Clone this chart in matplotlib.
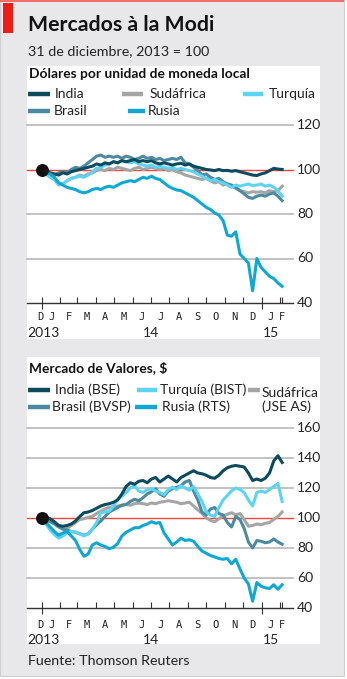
import matplotlib
matplotlib.use("Agg")
import matplotlib.pyplot as plt
import matplotlib.transforms as mtransforms
from matplotlib.patches import Rectangle
from matplotlib.lines import Line2D
import numpy as np

# ---------------- data ----------------
# days since 31 Dec 2013 (weekly samples)
days = list(range(0, 400, 7))

# Panel 1: dollars per unit of local currency (31 Dec 2013 = 100)
india_fx = [100, 99.5, 98.5, 98, 97.5, 98.5, 98, 99, 99.5, 100, 100.5, 101, 101.5, 102.5, 102, 103,
            102.5, 103.5, 103, 104, 103.5, 104, 104.5, 103.5, 104, 103.5, 104, 103, 102.5, 103, 102.5,
            102, 102.5, 102.8, 102, 102.5, 101.5, 101, 100.5, 100, 99.8, 99.5, 100, 99.5, 99.6, 99.2,
            99.5, 99, 98.5, 98, 97.5, 97.3, 98, 98.5, 99.5, 100.5, 100.2, 100]
brasil_fx = [100, 99, 98, 97.5, 98.5, 99, 98.5, 100, 101, 100.5, 101.5, 103, 104.5, 106, 106.5, 105.5,
             106, 105.5, 106, 105, 106, 105.5, 104.5, 105, 106, 105, 105.5, 104.5, 105, 104, 104.5,
             105, 104.5, 105.5, 103, 102.5, 101, 99.5, 97.5, 98, 96.5, 95.5, 96, 94.5, 93.5, 93, 92,
             90.5, 89, 87.5, 87, 88, 88.5, 88, 89, 89.5, 88, 86]
sudafrica_fx = [100, 98.5, 97, 96, 94, 93.5, 95, 96, 96.5, 97.5, 97, 98, 98.5, 99.5, 100, 99.5, 100.5,
                100, 101, 100.5, 100, 99.5, 100.5, 101, 100, 100.5, 101, 100.5, 100, 100.5, 99.5, 100,
                99, 98.5, 97.5, 97, 96.5, 96, 95.5, 96, 95, 94, 94.5, 93, 93.5, 92.5, 91.5, 90.5, 90,
                89.5, 90, 89.8, 90, 89.5, 90.5, 90, 90.5, 92.5]
turquia_fx = [100, 98, 96.5, 95.5, 93, 93.5, 95, 96, 96.5, 97, 96.5, 97.5, 99, 100.5, 101, 102, 102.5,
              103.5, 103, 104, 103.5, 103, 103.5, 102.5, 102, 101.5, 102, 101, 101.5, 101, 100.5, 101,
              100, 100.5, 100, 99.5, 99, 98, 97, 96, 95, 95.5, 94.5, 94, 93, 92, 93, 92.5, 93, 93.5,
              92.8, 93, 93.5, 92.5, 93, 92, 90.5, 88]
rusia_fx = [100, 99, 98, 96.5, 94, 93, 92, 91.5, 91, 90, 89.5, 90, 91, 91.5, 91, 92, 92.5, 92, 93, 94,
            94.5, 95, 94.5, 95.5, 96.5, 96, 97, 96, 95.5, 94, 92.5, 91.5, 90.8, 90.5, 89.5, 88.5, 87.5,
            86, 84.5, 83, 82, 80.5, 79.5, 77, 70.5, 70, 72, 62, 60, 58, 45.5, 60, 56, 54, 52, 51, 49,
            47.5]

# Panel 2: stock markets in dollar terms (31 Dec 2013 = 100)
india_st = [100, 100.5, 99.5, 97.5, 95, 94.5, 95, 96, 98, 101, 103.5, 104, 105, 106.5, 108, 109, 109.5,
            110.5, 112, 116, 121, 123.5, 122.5, 124.5, 125, 123.5, 126, 127, 124, 126, 128, 126, 124,
            127, 128.5, 130, 131.5, 130, 129.5, 128.5, 127, 126.5, 128.5, 131.5, 133.5, 134.5, 135,
            134.5, 134, 130, 125, 126, 125, 126.5, 130, 138, 141.5, 137]
brasil_st = [100, 99, 97.5, 96, 94, 92.5, 92, 91, 90.5, 89.5, 88.5, 89.5, 92.5, 95.5, 98, 101, 104,
             105.5, 107, 108.5, 109, 111, 112.5, 111.5, 113.5, 116, 117.5, 119.5, 116, 114.5, 118,
             119.5, 120.5, 121.5, 124, 125, 118, 112, 104, 102, 106, 107, 103, 102, 97, 94, 101, 99,
             93, 84, 80, 85, 84.5, 83.5, 84, 86, 84, 82.5]
sudafrica_st = [100, 99, 98, 96.5, 95, 93.5, 93, 95, 97, 99, 99.5, 100.5, 101, 103, 104.5, 106, 107,
                107.5, 108, 108.5, 109, 108.5, 109.5, 110, 109.5, 109, 110, 109.5, 110.5, 111, 111.5,
                111, 110.5, 109.5, 110, 110.5, 108, 105.5, 103, 100, 98.5, 97.5, 99.5, 101.5, 102.5,
                103.5, 102, 103, 99, 94.5, 95, 96, 95.5, 96.5, 97, 99, 101, 104]
turquia_st = [100, 96, 92, 89, 86.5, 88, 90, 91, 90.5, 89.5, 88, 89.5, 92.5, 97, 103.5, 104, 104.5, 108,
              112.5, 114.5, 117, 120, 121.5, 118, 117, 119, 119.5, 118, 117, 115.5, 119, 120.5, 119,
              121.5, 120, 118.5, 121, 116, 111, 104, 102, 101, 107, 112, 115, 118, 120, 119, 117, 112,
              108, 117, 118, 117, 119, 121, 123, 111]
rusia_st = [100, 97, 94, 91, 88.5, 90, 91, 88, 85, 79, 74.5, 76, 82, 83.5, 82, 81, 79.5, 80.5, 83, 88,
            90.5, 92, 93.5, 93.5, 95, 96, 97.5, 96.5, 97, 90, 86, 82, 84, 86.5, 85, 85.5, 84.5, 81, 78,
            76.5, 75, 74, 73, 72.5, 73, 69.5, 72.5, 66, 60, 56, 44.5, 57, 54.5, 53.5, 53, 55.5, 52.5,
            55.5]

series_names_fx = ["India", "Brasil", "Sudáfrica", "Rusia", "Turquía"]
series_names_st = ["India (BSE)", "Brasil (BVSP)", "Sudáfrica\n(JSE AS)", "Rusia (RTS)", "Turquía (BIST)"]
month_labels = ["D", "J", "F", "M", "A", "M", "J", "J", "A", "S", "O", "N", "D", "J", "F"]
year_labels = ["2013", "14", "15"]
yticks_fx = [40, 60, 80, 100, 120]
yticks_st = [40, 60, 80, 100, 120, 140, 160]

# ---------------- style ----------------
C_INDIA = "#0b4a5f"
C_BRASIL = "#4b8aa1"
C_SUD = "#a5a5a5"
C_TUR = "#5cd4f4"
C_RUS = "#0ea8d3"
FONT = "Lato"
MONO = "DejaVu Sans Mono"

W, H = 347, 679
fig = plt.figure(figsize=(W / 100, H / 100), dpi=100)
fig.patch.set_facecolor("white")


def fx(px):
    return px / W


def fy(py):
    return 1 - py / H


# background frame
fig.patches.append(Rectangle((0, fy(676)), fx(344), fy(0) - fy(676), transform=fig.transFigure,
                             facecolor="#e8e8ea", edgecolor="#cfcfcf", lw=0.8, zorder=-5))
fig.patches.append(Rectangle((0, fy(2)), fx(344), fy(0) - fy(2), transform=fig.transFigure,
                             facecolor="#f26d6d", edgecolor="none", zorder=-4))
fig.patches.append(Rectangle((fx(3), fy(33)), fx(10), fy(3) - fy(33), transform=fig.transFigure,
                             facecolor="#ee1c12", edgecolor="none", zorder=-4))
# white panels
for top, bot in [(66, 339), (357, 644)]:
    fig.patches.append(Rectangle((fx(27), fy(bot)), fx(320) - fx(27), fy(top) - fy(bot),
                                 transform=fig.transFigure, facecolor="white", edgecolor="none",
                                 zorder=-3))

fig.text(fx(28), fy(25), "Mercados à la Modi", family=FONT, weight="bold", fontsize=15.3,
         va="center", ha="left", color="#111111")
fig.text(fx(28), fy(51), "31 de diciembre, 2013 = 100", family=FONT, fontsize=10.3,
         va="center", ha="left", color="#222222")
fig.text(fx(28), fy(661), "Fuente: Thomson Reuters", family=FONT, fontsize=10.3,
         va="center", ha="left", color="#222222")

XMIN, XMAX = -24.5, 417


def month_centers():
    # month boundaries (days from 31 Dec 2013), clipped to the visible data range
    bounds = [-31, 0, 31, 59, 90, 120, 151, 181, 212, 243, 273, 304, 334, 365, 396, 424]
    lo, hi = -5, 402
    cs = []
    for a, b in zip(bounds[:-1], bounds[1:]):
        a2, b2 = max(a, lo), min(b, hi)
        cs.append((a2 + b2) / 2)
    return cs, bounds[1:-1]


def make_panel(top_px, bot_px, ymin, ymax, yticks, series, month_dy, year_dy):
    ax = fig.add_axes([fx(27), fy(bot_px), fx(293) - fx(27), fy(top_px) - fy(bot_px)])
    ax.set_facecolor("none")
    ax.set_xlim(XMIN, XMAX)
    ax.set_ylim(ymin, ymax)
    for s in ax.spines.values():
        s.set_visible(False)
    for yt in yticks:
        if yt == ymin:
            ax.axhline(yt, color="#333333", lw=1.0, zorder=2, clip_on=False)
        elif yt == 100:
            ax.axhline(yt, color="#f0463c", lw=1.0, zorder=2, clip_on=False)
        else:
            ax.axhline(yt, color="#bdbdbd", lw=1.3, zorder=1, clip_on=False)
    trY = mtransforms.blended_transform_factory(ax.transAxes, ax.transData)
    for yt in yticks:
        ax.text(1.015, yt, str(yt), transform=trY, family=FONT, fontsize=10, va="center",
                ha="left", color="#222222")
    ax.set_yticks([])
    centers, bounds = month_centers()
    ax.set_xticks([0, 365])
    ax.set_xticks([b for b in bounds if b not in (0, 365)] + [399], minor=True)
    ax.tick_params(axis="x", which="major", direction="inout", length=8, width=0.8,
                   color="#333333", labelbottom=False)
    ax.tick_params(axis="x", which="minor", direction="in", length=4, width=0.8,
                   color="#333333", labelbottom=False)
    trX = mtransforms.blended_transform_factory(ax.transData, ax.transAxes)
    hpx = bot_px - top_px
    for c, lab in zip(centers, month_labels):
        ax.text(c, -month_dy / hpx, lab, transform=trX, family=MONO, fontsize=7.5,
                ha="center", va="center", color="#222222")
    ax.text(XMIN + 1, -year_dy / hpx, year_labels[0], transform=trX, family=FONT, fontsize=10,
            ha="left", va="center", color="#222222")
    ax.text(182, -year_dy / hpx, year_labels[1], transform=trX, family=FONT, fontsize=10,
            ha="center", va="center", color="#222222")
    ax.text(centers[13], -year_dy / hpx, year_labels[2], transform=trX, family=FONT,
            fontsize=10, ha="center", va="center", color="#222222")
    for vals, col, z in series:
        ax.plot(days, vals, color=col, lw=2.2, solid_joinstyle="round", zorder=z)
    ax.plot([0], [100], "o", color="#111111", ms=8.3, zorder=10, clip_on=False)
    return ax


make_panel(125, 303, 40, 120, yticks_fx,
           [(sudafrica_fx, C_SUD, 3), (brasil_fx, C_BRASIL, 4), (turquia_fx, C_TUR, 5),
            (india_fx, C_INDIA, 6), (rusia_fx, C_RUS, 7)], 14, 30)
make_panel(428, 608, 40, 160, yticks_st,
           [(sudafrica_st, C_SUD, 3), (brasil_st, C_BRASIL, 4), (turquia_st, C_TUR, 5),
            (rusia_st, C_RUS, 6), (india_st, C_INDIA, 7)], 17.5, 32)


def legend_item(x0, x1, y, color, label, tx, ty=None):
    fig.lines.append(Line2D([fx(x0), fx(x1)], [fy(y), fy(y)], transform=fig.transFigure,
                            color=color, lw=3.2, solid_capstyle="butt", zorder=3))
    fig.text(fx(tx), fy(ty if ty is not None else y), label, family=FONT, fontsize=10,
             va="center", ha="left", color="#222222", linespacing=1.15)


# Panel 1 legend
fig.text(fx(29), fy(74), "Dólares por unidad de moneda local", family=FONT, weight="bold",
         fontsize=9.9, va="center", ha="left", color="#111111")
legend_item(28, 50, 94, C_INDIA, series_names_fx[0], 55)
legend_item(122, 143, 94, C_SUD, series_names_fx[2], 150)
legend_item(243, 263, 94, C_TUR, series_names_fx[4], 269)
legend_item(28, 50, 111, C_BRASIL, series_names_fx[1], 54)
legend_item(128, 145, 111, C_RUS, series_names_fx[3], 148)

# Panel 2 legend
fig.text(fx(29), fy(368), "Mercado de Valores, $", family=FONT, weight="bold",
         fontsize=9.9, va="center", ha="left", color="#111111")
legend_item(28, 50, 390, C_INDIA, series_names_st[0], 55)
legend_item(137, 157, 390, C_TUR, series_names_st[4], 160)
legend_item(248, 260, 390, C_SUD, series_names_st[2], 262, 400)
legend_item(28, 50, 407, C_BRASIL, series_names_st[1], 52)
legend_item(135, 157, 407, C_RUS, series_names_st[3], 162)

fig.savefig("out.png", dpi=100, facecolor=fig.get_facecolor())
